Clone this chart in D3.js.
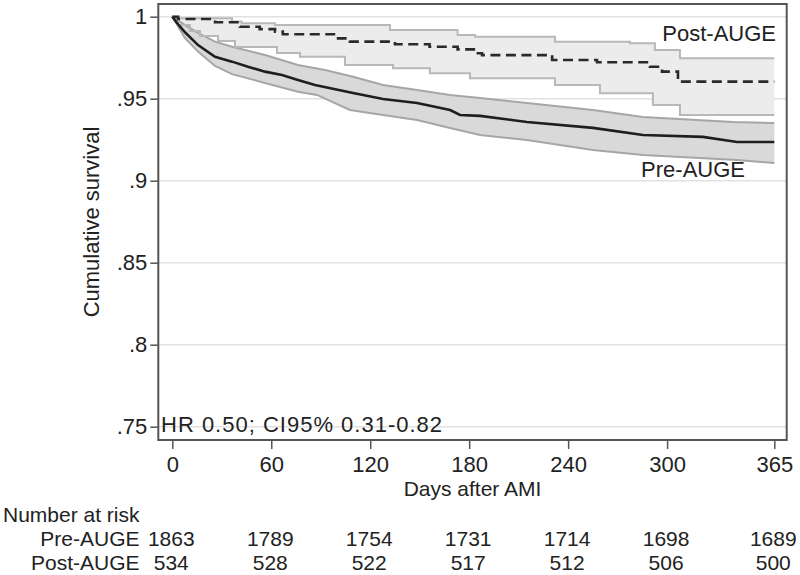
<!DOCTYPE html>
<html>
<head>
<meta charset="utf-8">
<script src="https://cdn.jsdelivr.net/npm/d3@7"></script>
<style>
  html, body { margin: 0; padding: 0; background: #fff; }
  svg { display: block; }
  text { font-family: "Liberation Sans", Arial, Helvetica, sans-serif; fill: #222; }
</style>
</head>
<body>
<svg id="chart" width="800" height="575"></svg>
<script>
// ---------- data ----------
const xTicks = [0, 60, 120, 180, 240, 300, 365];
const yTicks = [0.75, 0.8, 0.85, 0.9, 0.95, 1];
const yTickLabels = [".75", ".8", ".85", ".9", ".95", "1"];

// Kaplan-Meier estimates: [day, survival]
const preSurv = [[0,1],[3,0.9960],[7.7,0.9905],[15.6,0.9827],[25.9,0.9756],[36.2,0.9726],[45.9,0.9695],[56.2,0.9665],[66.5,0.9644],[76.2,0.9614],[86.5,0.9584],[109.6,0.9535],[127.8,0.9498],[148.4,0.9474],[168.4,0.9431],[174.5,0.9401],[186.6,0.9395],[215,0.9358],[255,0.9322],[285.4,0.9279],[321.7,0.9267],[342.4,0.9236],[365,0.9236]];
const preUpper = [[0,1],[7.7,0.9949],[15.6,0.9901],[25.9,0.9848],[36.2,0.9817],[56.2,0.9766],[76.2,0.9705],[92.6,0.9675],[109.6,0.9634],[127.8,0.9584],[148.4,0.9553],[168.4,0.9523],[186.6,0.9504],[215,0.9474],[255,0.9431],[285.4,0.9388],[340,0.9358],[365,0.9352]];
const preLower = [[0,1],[7.7,0.987],[15.6,0.9787],[25.9,0.970],[36.2,0.965],[56.2,0.9596],[76.2,0.9543],[87.7,0.9523],[107.7,0.9431],[127.8,0.9401],[148.4,0.937],[168.4,0.9321],[186.6,0.9279],[215,0.9248],[255,0.9187],[285.4,0.9157],[342.4,0.9126],[365,0.9108]];

const postSurv = [[0,1],[3.5,0.9986],[25.9,0.9966],[41,0.9939],[53,0.9924],[62.3,0.9909],[67,0.9893],[100.5,0.9868],[107.7,0.9848],[135,0.9832],[156,0.9817],[173,0.9801],[185.3,0.9777],[187.8,0.9766],[230.3,0.9736],[257.5,0.9722],[289.6,0.9695],[296.9,0.9665],[306.6,0.9604],[365,0.9604]];
const postUpper = [[0,1],[4,0.9990],[36.2,0.997],[42,0.996],[62.3,0.9949],[132,0.9919],[173,0.9888],[183.5,0.9878],[232,0.9848],[277.5,0.9838],[292.6,0.9797],[307.8,0.9746],[365,0.9746]];
const postLower = [[0,1],[3.5,0.9949],[10.7,0.9913],[16.8,0.9882],[27.7,0.9852],[38,0.9815],[63.5,0.9779],[77.4,0.9756],[104.7,0.9706],[133.8,0.9685],[156.2,0.9655],[180.5,0.9624],[232,0.9584],[259.3,0.9533],[291.4,0.9462],[307.8,0.9401],[365,0.9401]];

// Number at risk
const riskGroups = ["Pre-AUGE", "Post-AUGE"];
const riskPre = [1863, 1789, 1754, 1731, 1714, 1698, 1689];
const riskPost = [534, 528, 522, 517, 512, 506, 500];

// ---------- layout ----------
const svg = d3.select("#chart");
const frame = { left: 158.3, right: 786.7, top: 4, bottom: 440 };
const x = d3.scaleLinear().domain([0, 365]).range([172.3, 774.3]);
const y = d3.scaleLinear().domain([0.75, 1]).range([426.7, 16.7]);
const FS = 22, FS2 = 21;

// gridlines
svg.append("g").selectAll("line").data(yTicks).join("line")
  .attr("x1", frame.left).attr("x2", frame.right)
  .attr("y1", d => y(d)).attr("y2", d => y(d))
  .attr("stroke", "#e2e2e2").attr("stroke-width", 1.5);

// step band (post) : merge two step curves into an area
function bandData(upper, lower) {
  const days = Array.from(new Set(upper.map(d => d[0]).concat(lower.map(d => d[0])))).sort((a, b) => a - b);
  const at = (arr, t) => { let v = arr[0][1]; for (const p of arr) { if (p[0] <= t) v = p[1]; } return v; };
  return days.map(t => ({ t, hi: at(upper, t), lo: at(lower, t) }));
}
const stepArea = d3.area().x(d => x(d.t)).y0(d => y(d.lo)).y1(d => y(d.hi)).curve(d3.curveStepAfter);
const stepLine = d3.line().x(d => x(d[0])).y(d => y(d[1])).curve(d3.curveStepAfter);
const linLine = d3.line().x(d => x(d[0])).y(d => y(d[1]));

// pre band (many small steps -> drawn as a polygon)
const prePoly = preUpper.concat(preLower.slice().reverse());
svg.append("path").datum(prePoly).attr("d", d => linLine(d) + "Z").attr("fill", "#d9d9d9");
svg.append("path").datum(bandData(postUpper, postLower)).attr("d", stepArea).attr("fill", "#ececec");

[preUpper, preLower].forEach(s => svg.append("path").datum(s).attr("d", linLine)
  .attr("fill", "none").attr("stroke", "#a6a6a6").attr("stroke-width", 2));
[postUpper, postLower].forEach(s => svg.append("path").datum(s).attr("d", stepLine)
  .attr("fill", "none").attr("stroke", "#b8b8b8").attr("stroke-width", 2));

svg.append("path").datum(preSurv).attr("d", linLine)
  .attr("fill", "none").attr("stroke", "#1e1e1e").attr("stroke-width", 2.6);
svg.append("path").datum(postSurv).attr("d", stepLine)
  .attr("fill", "none").attr("stroke", "#2a2a2a").attr("stroke-width", 2.6)
  .attr("stroke-dasharray", "10,5.5");

// frame
svg.append("rect")
  .attr("x", frame.left).attr("y", frame.top)
  .attr("width", frame.right - frame.left).attr("height", frame.bottom - frame.top)
  .attr("fill", "none").attr("stroke", "#555").attr("stroke-width", 2);

// axes
const yAxis = d3.axisLeft(y).tickValues(yTicks)
  .tickFormat((d, i) => yTickLabels[i]).tickSize(8).tickPadding(3);
const gy = svg.append("g").attr("transform", `translate(${frame.left},0)`).call(yAxis);
gy.select(".domain").remove();
gy.selectAll(".tick line").attr("stroke", "#555").attr("stroke-width", 1.5);
gy.selectAll(".tick text").attr("font-size", FS).attr("font-family", null).style("fill", "#222");

const xAxis = d3.axisBottom(x).tickValues(xTicks).tickFormat(d3.format("d")).tickSize(9).tickPadding(7.5);
const gx = svg.append("g").attr("transform", `translate(0,${frame.bottom})`).call(xAxis);
gx.select(".domain").remove();
gx.selectAll(".tick line").attr("stroke", "#555").attr("stroke-width", 1.5);
gx.selectAll(".tick text").attr("font-size", FS).attr("font-family", null).style("fill", "#222");

// axis titles
svg.append("text").attr("x", (frame.left + frame.right) / 2).attr("y", 495.5)
  .attr("text-anchor", "middle").attr("font-size", FS2).text("Days after AMI");
svg.append("text").attr("transform", `translate(99,${(frame.top + frame.bottom) / 2}) rotate(-90)`)
  .attr("text-anchor", "middle").attr("font-size", FS).text("Cumulative survival");

// curve labels
svg.append("text").attr("x", 776).attr("y", 41).attr("text-anchor", "end").attr("font-size", FS).text("Post-AUGE");
svg.append("text").attr("x", 745).attr("y", 177).attr("text-anchor", "end").attr("font-size", FS).text("Pre-AUGE");

// HR annotation
svg.append("text").attr("x", 161).attr("y", 432).attr("font-size", FS).attr("letter-spacing", 1)
  .text("HR 0.50; CI95% 0.31-0.82");

// number at risk table
svg.append("text").attr("x", 3).attr("y", 522).attr("font-size", FS2).text("Number at risk");
const rows = [riskPre, riskPost];
const rowY = [546, 570];
rows.forEach((vals, r) => {
  svg.append("text").attr("x", 139.5).attr("y", rowY[r]).attr("text-anchor", "end")
    .attr("font-size", FS2).text(riskGroups[r]);
  svg.append("g").selectAll("text").data(vals).join("text")
    .attr("x", (d, i) => x(xTicks[i]) - 1).attr("y", rowY[r])
    .attr("text-anchor", "middle").attr("font-size", FS2).text(d => d);
});
</script>
</body>
</html>
